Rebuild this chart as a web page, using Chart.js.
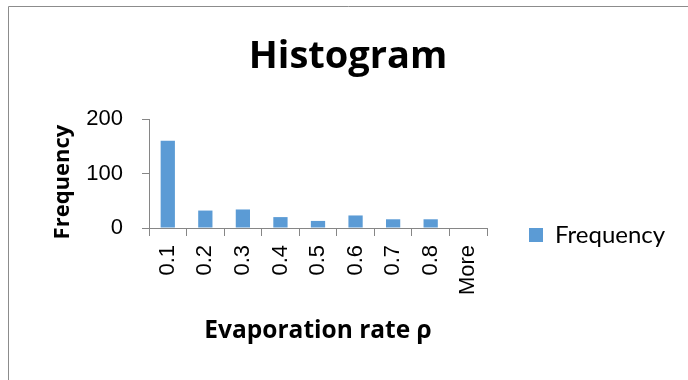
<!DOCTYPE html>
<html>
<head>
<meta charset="utf-8">
<script src="https://cdn.jsdelivr.net/npm/chart.js@4/dist/chart.umd.min.js"></script>
<style>
  html, body { margin: 0; padding: 0; background: #fff; }
  canvas { display: block; }
</style>
</head>
<body>
<canvas id="chart" width="688" height="380"></canvas>
<script>
// Histogram data
const binLabels = ['0.1', '0.2', '0.3', '0.4', '0.5', '0.6', '0.7', '0.8', 'More'];
const frequencies = [160, 32, 34, 20, 13, 23, 16, 16, 0];
const yTicks = [0, 100, 200];

const barColor = '#5b9bd5';
const axisColor = '#868686';
const legendWidth = 201;

// Draws the outer chart frame (top and left edges visible in the crop)
const framePlugin = {
  id: 'frame',
  beforeDraw(chart) {
    const ctx = chart.ctx;
    ctx.save();
    ctx.strokeStyle = '#8c8c8c';
    ctx.lineWidth = 1;
    ctx.beginPath();
    ctx.moveTo(8.5, 400);
    ctx.lineTo(8.5, 6.5);
    ctx.lineTo(700, 6.5);
    ctx.stroke();
    ctx.restore();
  }
};

// Legend on the right gets a fixed column width (default caps it at a quarter of the canvas)
const legendWidthPlugin = {
  id: 'legendWidth',
  beforeUpdate(chart) {
    const legend = chart.legend;
    if (!legend || legend._fixedWidth) return;
    const fit = legend.fit;
    legend.fit = function () {
      fit.call(this);
      this.width = legendWidth;
    };
    legend._fixedWidth = true;
  }
};

new Chart(document.getElementById('chart'), {
  type: 'bar',
  data: {
    labels: binLabels,
    datasets: [{
      label: 'Frequency',
      data: frequencies,
      backgroundColor: barColor,
      borderWidth: 0,
      barPercentage: 0.38,
      categoryPercentage: 1
    }]
  },
  options: {
    responsive: false,
    animation: false,
    layout: { padding: { left: 8, top: 6, right: 0, bottom: 0 } },
    plugins: {
      title: {
        display: true,
        text: 'Histogram',
        color: '#000',
        font: { family: 'Open Sans', size: 38, weight: 'bold' },
        padding: { top: 28, bottom: 39.4 }
      },
      legend: {
        position: 'right',
        title: {
          display: true,
          text: ' ',
          font: { size: 10 },
          padding: { top: 72, bottom: 0 }
        },
        labels: {
          boxWidth: 14,
          boxHeight: 14,
          padding: 42,
          color: '#000',
          font: { family: 'Lato', size: 24 }
        }
      },
      tooltip: { enabled: false }
    },
    scales: {
      x: {
        afterFit(scale) { scale.height = 152; },
        grid: {
          display: true,
          drawOnChartArea: false,
          drawTicks: true,
          tickLength: 8,
          color: axisColor
        },
        border: { color: axisColor, width: 1 },
        ticks: {
          autoSkip: false,
          minRotation: 90,
          maxRotation: 90,
          padding: 9,
          color: '#000',
          font: { family: 'Liberation Sans', size: 22 }
        },
        title: {
          display: true,
          text: 'Evaporation rate ρ',
          color: '#000',
          font: { family: 'Open Sans', size: 24.5, weight: 'bold' },
          padding: { top: 0, bottom: 34 }
        }
      },
      y: {
        min: yTicks[0],
        max: yTicks[yTicks.length - 1],
        afterFit(scale) { scale.width = 141; },
        afterBuildTicks(scale) { scale.ticks = yTicks.map(v => ({ value: v })); },
        grid: {
          display: true,
          drawOnChartArea: false,
          drawTicks: true,
          tickLength: 7,
          color: axisColor
        },
        border: { color: axisColor, width: 1 },
        ticks: {
          padding: 19,
          color: '#000',
          font: { family: 'Liberation Sans', size: 22 }
        },
        title: {
          display: true,
          text: 'Frequency   ',
          color: '#000',
          font: { family: 'Open Sans', size: 22, weight: 'bold' },
          padding: { top: 42, bottom: 0 }
        }
      }
    }
  },
  plugins: [framePlugin, legendWidthPlugin]
});
</script>
</body>
</html>
